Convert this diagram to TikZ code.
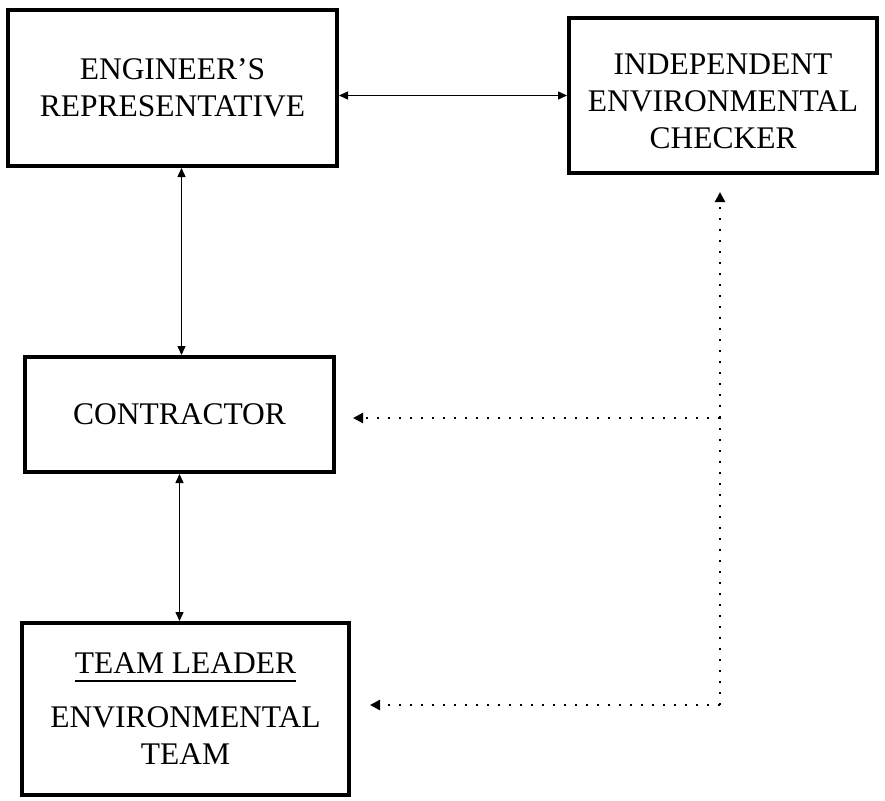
\documentclass[tikz,border=0pt]{standalone}
\usepackage{fontspec}
\setmainfont{Liberation Serif}
\usetikzlibrary{arrows.meta}
\newcommand{\ulbox}[1]{\setbox0\hbox{#1}\rlap{\rule[-8pt]{\wd0}{1.6pt}}\box0}
\tikzset{
  boxnode/.style={draw, line width=4pt, inner sep=0pt, align=center,
    font=\fontsize{31.5}{37}\selectfont},
  solidarrow/.style={line width=1.4pt, {Triangle[length=9pt,width=8pt]}-{Triangle[length=9pt,width=8pt]}},
  dotarrow/.style={line width=2.2pt, dash pattern=on 2.5pt off 8.5pt, -{Triangle[length=10pt,width=10pt]}},
  dotline/.style={line width=2.2pt, dash pattern=on 2.5pt off 8.5pt}
}
\begin{document}
\begin{tikzpicture}[x=1pt,y=-1pt]
\useasboundingbox (0,0) rectangle (885,800);
\fill[white] (0,0) rectangle (885,800);

\node[boxnode, minimum width=329pt, minimum height=156pt] (eng) at (172.5,88)
  {ENGINEER'S\\REPRESENTATIVE};
\node[boxnode, minimum width=308pt, minimum height=155pt] (iec) at (723,95.5)
  {\rule{0pt}{32pt}INDEPENDENT\\ENVIRONMENTAL\\CHECKER};
\node[boxnode, minimum width=309pt, minimum height=115pt] (con) at (179.5,414.5)
  {CONTRACTOR};
\node[boxnode, minimum width=327pt, minimum height=172pt] (team) at (185.5,709)
  {\ulbox{TEAM LEADER}\\[17pt]ENVIRONMENTAL\\TEAM};

% solid connectors
\draw[solidarrow] (eng.east |- iec.west) -- (iec.west);
\draw[solidarrow] ([xshift=2pt]eng.south -| con.north) -- ([xshift=2pt]con.north);
\draw[solidarrow] (con.south) -- (con.south |- team.north);

% dotted connectors
\coordinate (corner) at (720,705);
\coordinate (junction) at (720,418);
\coordinate (iectip) at (720,192);
\coordinate (contip) at (353,418);
\coordinate (teamtip) at (370,705);
\draw[dotline] (corner) -- (junction);
\draw[dotarrow] (junction) -- (iectip);
\draw[dotarrow] (junction) -- (contip);
\draw[dotarrow] (corner) -- (teamtip);
\end{tikzpicture}
\end{document}
